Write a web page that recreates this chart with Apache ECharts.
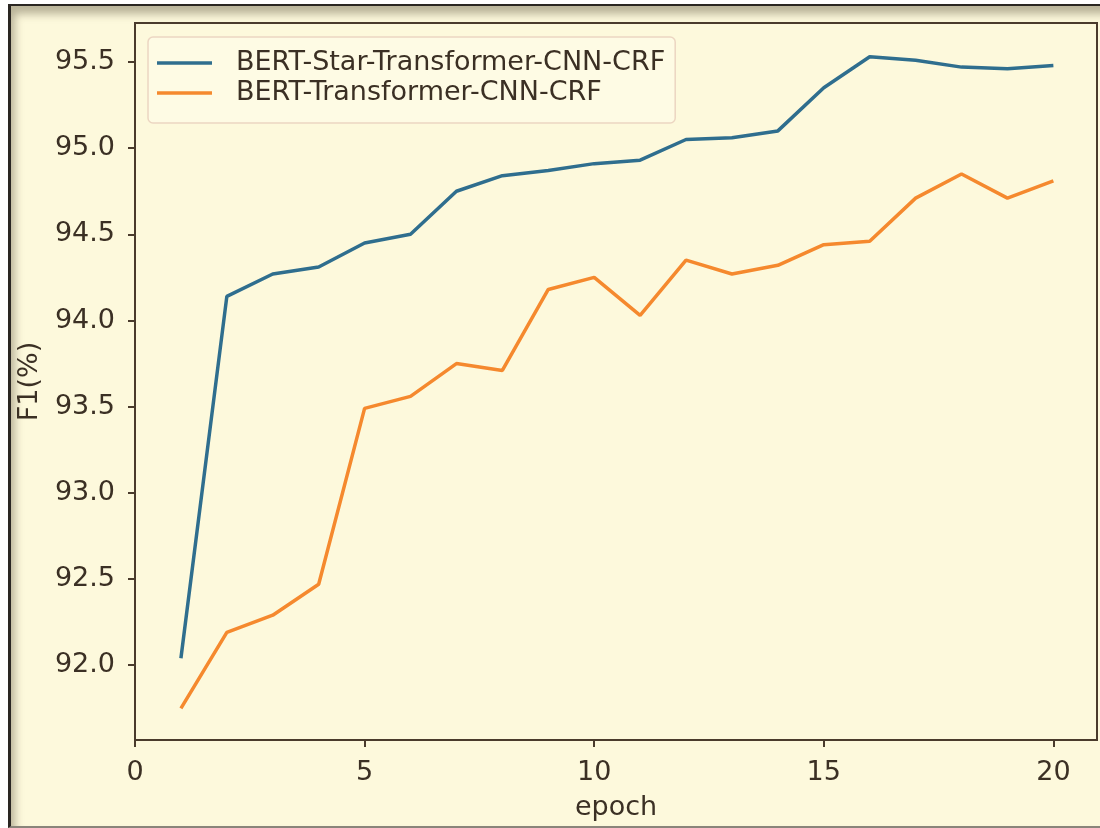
<!DOCTYPE html>
<html>
<head>
<meta charset="utf-8">
<script src="https://cdn.jsdelivr.net/npm/echarts@6/dist/echarts.min.js"></script>
<style>
  html, body { margin: 0; padding: 0; background: #ffffff; width: 1100px; height: 828px; overflow: hidden; }
  #frame {
    position: absolute; left: 8px; top: 4px; width: 1110px; height: 820px;
    border-left: 3px solid #2a2622; border-top: 2px solid #2a2622; border-bottom: 2px solid #8a857a;
    background: #fdf9dc;
    box-shadow: inset 4px 8px 9px rgba(60,50,30,0.35);
  }
  #chart { position: absolute; left: 0; top: 0; width: 1100px; height: 828px; }
</style>
</head>
<body>
<div id="frame"></div>
<div id="chart"></div>
<script>
const epochs = [1,2,3,4,5,6,7,8,9,10,11,12,13,14,15,16,17,18,19,20];
const starF1 = [92.04,94.14,94.27,94.31,94.45,94.50,94.75,94.84,94.87,94.91,94.93,95.05,95.06,95.10,95.35,95.53,95.51,95.47,95.46,95.48];
const baseF1 = [91.75,92.19,92.29,92.47,93.49,93.56,93.75,93.71,94.18,94.25,94.03,94.35,94.27,94.32,94.44,94.46,94.71,94.85,94.71,94.81];
const seriesNames = ['BERT-Star-Transformer-CNN-CRF', 'BERT-Transformer-CNN-CRF'];
const xTicks = [0,5,10,15,20];
const yTicks = [92.0,92.5,93.0,93.5,94.0,94.5,95.0,95.5];

const textColor = '#3b3024';
const axisColor = '#4a3b2c';
const font = 'DejaVu Sans';
const fs = 27;

const chart = echarts.init(document.getElementById('chart'), null, {renderer: 'canvas'});
chart.setOption({
  backgroundColor: 'transparent',
  animation: false,
  grid: {
    left: 135, right: 3, top: 23, bottom: 88,
    show: true, borderColor: axisColor, borderWidth: 2, backgroundColor: 'transparent'
  },
  legend: {
    orient: 'vertical',
    left: 148, top: 37,
    padding: [12, 10, 16, 9],
    icon: 'rect',
    itemWidth: 55, itemHeight: 3.5, itemGap: 2,
    backgroundColor: 'rgba(255,253,235,0.5)',
    borderColor: '#ecd6c2', borderWidth: 1.5, borderRadius: 5,
    textStyle: { color: textColor, fontFamily: font, fontSize: fs, lineHeight: 28, padding: [0,0,0,19] },
    data: seriesNames
  },
  xAxis: {
    type: 'value', min: 0, max: 20.95,
    name: 'epoch', nameLocation: 'middle', nameGap: 54,
    nameTextStyle: { color: textColor, fontFamily: font, fontSize: fs },
    axisLine: { show: true, lineStyle: { color: axisColor, width: 2 } },
    axisTick: { show: true, length: 7, lineStyle: { color: axisColor, width: 2 }, customValues: xTicks },
    axisLabel: { color: textColor, fontFamily: font, fontSize: fs, margin: 19, customValues: xTicks },
    splitLine: { show: false }
  },
  yAxis: {
    type: 'value', min: 91.566, max: 95.726,
    name: 'F1(%)', nameLocation: 'middle', nameGap: 92,
    nameTextStyle: { color: textColor, fontFamily: font, fontSize: fs },
    axisLine: { show: true, lineStyle: { color: axisColor, width: 2 } },
    axisTick: { show: true, length: 7, lineStyle: { color: axisColor, width: 2 }, customValues: yTicks },
    axisLabel: { color: textColor, fontFamily: font, fontSize: fs, margin: 20, customValues: yTicks,
                 formatter: v => v.toFixed(1) },
    splitLine: { show: false }
  },
  series: [
    {
      name: seriesNames[0], type: 'line', symbol: 'none', showSymbol: false,
      data: epochs.map((e, i) => [e, starF1[i]]),
      lineStyle: { color: '#2f6e8e', width: 3.5 }, itemStyle: { color: '#2f6e8e' }
    },
    {
      name: seriesNames[1], type: 'line', symbol: 'none', showSymbol: false,
      data: epochs.map((e, i) => [e, baseF1[i]]),
      lineStyle: { color: '#f5892e', width: 3.5 }, itemStyle: { color: '#f5892e' }
    }
  ]
});
</script>
</body>
</html>
